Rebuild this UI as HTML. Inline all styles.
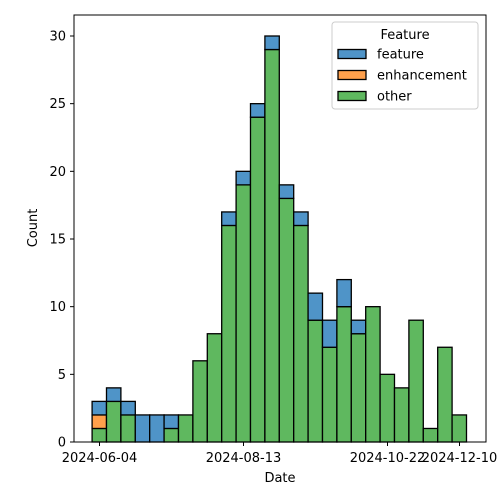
<!DOCTYPE html>
<html><head><meta charset="utf-8"><style>
body{margin:0;background:#fff}
svg{display:block;font-family:"DejaVu Sans","Liberation Sans",sans-serif}
</style></head><body>
<svg id="chart" width="500" height="500" viewBox="0 0 500 500"></svg>
<script>
const binStartDays=[-3.6,3.4,10.4,17.4,24.4,31.4,38.4,45.4,52.4,59.4,66.4,73.4,80.4,87.4,94.4,101.4,108.4,115.4,122.4,129.4,136.4,143.4,150.4,157.4,164.4,171.4];
const otherCounts=[1,3,2,0,0,1,2,6,8,16,19,24,29,18,16,9,7,10,8,10,5,4,9,1,7,2];
const enhancementCounts=[1,0,0,0,0,0,0,0,0,0,0,0,0,0,0,0,0,0,0,0,0,0,0,0,0,0];
const featureCounts=[1,1,1,2,2,1,0,0,0,1,1,1,1,1,1,2,2,2,1,0,0,0,0,0,0,0];
const binWidthDays=7;
const xTickDays=[0,70,140,175];
const xTickLabels=["2024-06-04","2024-08-13","2024-10-22","2024-12-10"];
const yTicks=[0,5,10,15,20,25,30];

const L=74,R=486,T=15,B=442;
const x=d=>99.5+d*(144/70);
const y=v=>B-v*(406/30);
const NS="http://www.w3.org/2000/svg";
const svg=document.getElementById('chart');
function mk(tag,attrs,parent){const e=document.createElementNS(NS,tag);for(const k in attrs)e.setAttribute(k,attrs[k]);(parent||svg).appendChild(e);return e;}

const bars=mk('g',{});


const colors={other:'#5fb85f',enhancement:'#ffa04c',feature:'#4f94c8'};
binStartDays.forEach((d,i)=>{
  let base=0;
  [['other',otherCounts[i]],['enhancement',enhancementCounts[i]],['feature',featureCounts[i]]].forEach(([s,v])=>{
    if(v<=0)return;
    const r=mk('rect',{x:x(d),y:y(base+v),width:x(d+binWidthDays)-x(d),height:y(base)-y(base+v),fill:colors[s],stroke:'#000','stroke-width':1.3},bars);
    
    
    base+=v;
  });
});

const frame=mk('rect',{x:L,y:T,width:R-L,height:B-T,fill:'none',stroke:'#000','stroke-width':1});



yTicks.forEach(v=>{
  mk('line',{x1:L-4,x2:L,y1:y(v),y2:y(v),stroke:'#000'});
  const t=mk('text',{x:L-8,y:y(v)+4.5,'text-anchor':'end','font-size':13});
  t.textContent=v;
  
  
});
xTickDays.forEach((d,i)=>{
  mk('line',{x1:x(d),x2:x(d),y1:B,y2:B+4,stroke:'#000'});
  const t=mk('text',{x:x(d),y:B+20,'text-anchor':'middle','font-size':13});
  t.textContent=xTickLabels[i];
  
  
});
const xt=mk('text',{x:(L+R)/2,y:482,'text-anchor':'middle','font-size':13});
xt.textContent='Date';


const yt=mk('text',{x:0,y:0,'text-anchor':'middle','font-size':13,transform:'translate(37,228) rotate(-90)'});
yt.textContent='Count';



const lg=mk('g',{});


mk('rect',{x:332,y:22,width:146,height:87,rx:3,fill:'#fff','fill-opacity':0.8,stroke:'#ccc'},lg);
const lt=mk('text',{x:405,y:39,'text-anchor':'middle','font-size':13},lg);
lt.textContent='Feature';


[['feature',54],['enhancement',75],['other',96]].forEach(([s,yy])=>{
  const g=mk('g',{},lg);
  
  
  mk('rect',{x:338,y:yy-4.5,width:28,height:9,fill:colors[s],stroke:'#000','stroke-width':1.3},g);
  const t=mk('text',{x:377,y:yy+4.5,'font-size':13},g);
  t.textContent=s;
});
</script>
</body></html>
